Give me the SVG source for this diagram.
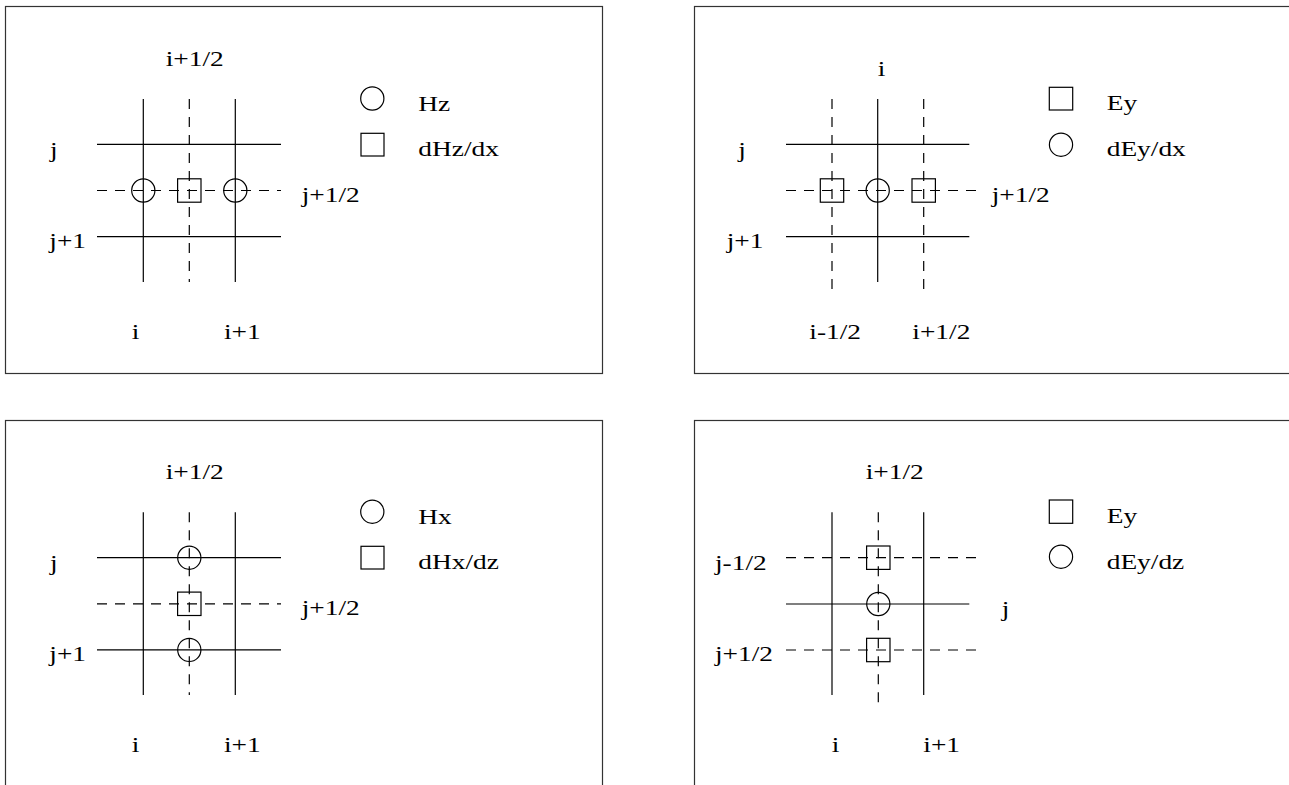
<svg xmlns="http://www.w3.org/2000/svg" width="1289" height="785" viewBox="0 0 1289 785">
<style>
.frame{fill:none;stroke:#333;stroke-width:1.2}
.s{stroke:#000;stroke-width:1.2;fill:none}
.d{stroke:#000;stroke-width:1.2;fill:none;stroke-dasharray:10 8}
.m{stroke:#000;stroke-width:1.2;fill:none}
text{font-family:"Liberation Serif","Times New Roman",serif;font-size:20px;fill:#000}
</style>
<rect width="1289" height="785" fill="#fff"/>

<!-- Panel 1 -->
<g id="panel1">
<rect class="frame" x="5.5" y="6.5" width="597" height="367"/>
<g id="p1-grid">
<line class="s" x1="143.3" y1="99" x2="143.3" y2="282"/>
<line class="s" x1="235.3" y1="99" x2="235.3" y2="282"/>
<line class="d" x1="189.3" y1="99" x2="189.3" y2="282"/>
<line class="s" x1="97" y1="144.3" x2="281" y2="144.3"/>
<line class="s" x1="97" y1="236.7" x2="281" y2="236.7"/>
<line class="d" x1="97" y1="190.5" x2="281" y2="190.5"/>
</g>
<circle id="p1-c1" class="m" cx="143.3" cy="190.5" r="11.6"/>
<rect id="p1-s1" class="m" x="177.6" y="178.8" width="23.4" height="23.4"/>
<circle id="p1-c2" class="m" cx="235.3" cy="190.5" r="11.6"/>
<g id="p1-labels">
<text transform="translate(165.7 65.5) scale(1.37 1)">i+1/2</text>
<text transform="translate(50 157) scale(1.37 1)">j</text>
<text transform="translate(301.7 202) scale(1.37 1)">j+1/2</text>
<text transform="translate(49.3 248) scale(1.37 1)">j+1</text>
<text transform="translate(131.7 339) scale(1.37 1)">i</text>
<text transform="translate(224 339) scale(1.37 1)">i+1</text>
</g>
<g id="p1-legend">
<circle class="m" cx="372.3" cy="98.5" r="11.6"/>
<text transform="translate(418.3 110.7) scale(1.37 1)">Hz</text>
<rect class="m" x="361" y="133.3" width="23" height="22.7"/>
<text transform="translate(418.3 156) scale(1.37 1)">dHz/dx</text>
</g>
</g>

<!-- Panel 2 -->
<g id="panel2">
<rect class="frame" x="694.5" y="6.5" width="597" height="367"/>
<g id="p2-grid">
<line class="d" x1="832" y1="99" x2="832" y2="292"/>
<line class="d" x1="923.7" y1="99" x2="923.7" y2="292"/>
<line class="s" x1="877.7" y1="99" x2="877.7" y2="282"/>
<line class="s" x1="786" y1="144.3" x2="969.3" y2="144.3"/>
<line class="s" x1="786" y1="236.7" x2="969.3" y2="236.7"/>
<line class="d" x1="786" y1="190.5" x2="978" y2="190.5"/>
</g>
<rect id="p2-s1" class="m" x="820.3" y="178.8" width="23.4" height="23.4"/>
<circle id="p2-c1" class="m" cx="877.7" cy="190.5" r="11.6"/>
<rect id="p2-s2" class="m" x="912" y="178.8" width="23.4" height="23.4"/>
<g id="p2-labels">
<text transform="translate(877.7 76) scale(1.37 1)">i</text>
<text transform="translate(738.3 157) scale(1.37 1)">j</text>
<text transform="translate(991.7 202) scale(1.37 1)">j+1/2</text>
<text transform="translate(726.7 248) scale(1.37 1)">j+1</text>
<text transform="translate(809.3 339) scale(1.37 1)">i-1/2</text>
<text transform="translate(912.3 339) scale(1.37 1)">i+1/2</text>
</g>
<g id="p2-legend">
<rect class="m" x="1049.3" y="87.3" width="23.4" height="22.7"/>
<text transform="translate(1106.7 110) scale(1.37 1)">Ey</text>
<circle class="m" cx="1061" cy="144.7" r="11.6"/>
<text transform="translate(1106.7 156) scale(1.37 1)">dEy/dx</text>
</g>
</g>

<!-- Panel 3 -->
<g id="panel3">
<rect class="frame" x="5.5" y="420.5" width="597" height="367"/>
<g id="p3-grid">
<line class="s" x1="143.3" y1="512.3" x2="143.3" y2="695"/>
<line class="s" x1="235.3" y1="512.3" x2="235.3" y2="695"/>
<line class="d" x1="189.3" y1="512.3" x2="189.3" y2="695"/>
<line class="s" x1="97" y1="557.7" x2="281" y2="557.7"/>
<line class="s" x1="97" y1="649.9" x2="281" y2="649.9"/>
<line class="d" x1="97" y1="603.8" x2="281" y2="603.8"/>
</g>
<circle id="p3-c1" class="m" cx="189.3" cy="557.7" r="11.6"/>
<rect id="p3-s1" class="m" x="177.6" y="592.1" width="23.4" height="23.4"/>
<circle id="p3-c2" class="m" cx="189.3" cy="649.9" r="11.6"/>
<g id="p3-labels">
<text transform="translate(165.7 478.5) scale(1.37 1)">i+1/2</text>
<text transform="translate(50 570) scale(1.37 1)">j</text>
<text transform="translate(301.7 615) scale(1.37 1)">j+1/2</text>
<text transform="translate(49.3 661) scale(1.37 1)">j+1</text>
<text transform="translate(131.7 752) scale(1.37 1)">i</text>
<text transform="translate(224 752) scale(1.37 1)">i+1</text>
</g>
<g id="p3-legend">
<circle class="m" cx="372.3" cy="511.7" r="11.6"/>
<text transform="translate(418.3 523.7) scale(1.37 1)">Hx</text>
<rect class="m" x="361" y="546.3" width="23" height="22.7"/>
<text transform="translate(418.3 569) scale(1.37 1)">dHx/dz</text>
</g>
</g>

<!-- Panel 4 -->
<g id="panel4">
<rect class="frame" x="694.5" y="420.5" width="597" height="367"/>
<g id="p4-grid">
<line class="s" x1="832" y1="512.3" x2="832" y2="695"/>
<line class="s" x1="923.7" y1="512.3" x2="923.7" y2="695"/>
<line class="d" x1="878.3" y1="512.3" x2="878.3" y2="705"/>
<line class="d" x1="786" y1="557.7" x2="978" y2="557.7"/>
<line class="s" x1="786" y1="604" x2="969.3" y2="604"/>
<line class="d" x1="786" y1="650" x2="978" y2="650"/>
</g>
<rect id="p4-s1" class="m" x="866.6" y="546" width="23.4" height="23.4"/>
<circle id="p4-c1" class="m" cx="878.3" cy="604" r="11.6"/>
<rect id="p4-s2" class="m" x="866.6" y="638.3" width="23.4" height="23.4"/>
<g id="p4-labels">
<text transform="translate(865.7 478.5) scale(1.37 1)">i+1/2</text>
<text transform="translate(715 570) scale(1.37 1)">j-1/2</text>
<text transform="translate(1001.7 616) scale(1.37 1)">j</text>
<text transform="translate(715 661) scale(1.37 1)">j+1/2</text>
<text transform="translate(831.7 752) scale(1.37 1)">i</text>
<text transform="translate(923.3 752) scale(1.37 1)">i+1</text>
</g>
<g id="p4-legend">
<rect class="m" x="1049.3" y="500" width="23.4" height="23.3"/>
<text transform="translate(1106.7 523.3) scale(1.37 1)">Ey</text>
<circle class="m" cx="1061" cy="556.7" r="11.6"/>
<text transform="translate(1106.7 569) scale(1.37 1)">dEy/dz</text>
</g>
</g>
</svg>
